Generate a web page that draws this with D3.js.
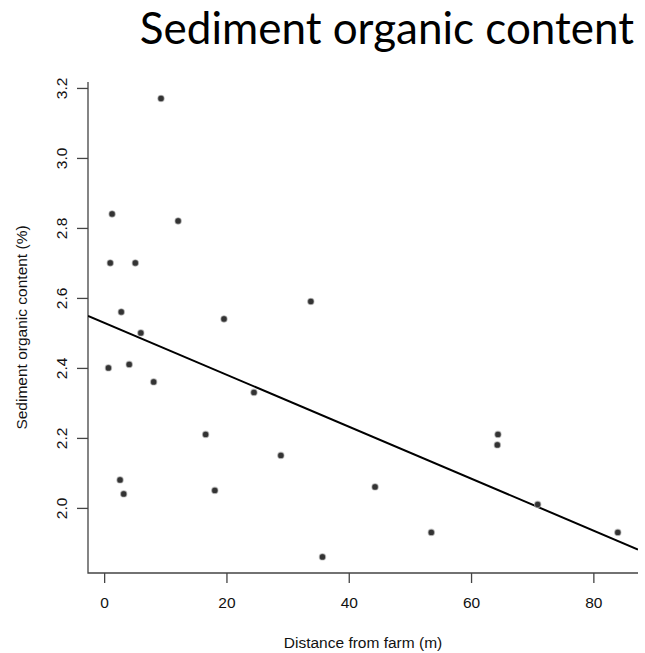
<!DOCTYPE html>
<html>
<head>
<meta charset="utf-8">
<script src="https://cdn.jsdelivr.net/npm/d3@7/dist/d3.min.js"></script>
<style>
  body { margin: 0; background: #fff; }
  svg { display: block; }
  .tick text { font-family: "Liberation Sans", Arial, sans-serif; fill: #111; }
</style>
</head>
<body>
<div id="chart"></div>
<script>
// distance from farm (m) and organic content (%)
const distance = [0.7, 1.0, 1.3, 2.6, 2.8, 3.2, 4.1, 5.1, 6.0, 8.1, 9.3, 12.1, 16.6,
                  18.1, 19.6, 24.5, 28.9, 33.8, 35.7, 44.3, 53.5, 64.4, 64.3, 70.9, 84.0];
const organic  = [2.40, 2.70, 2.84, 2.08, 2.56, 2.04, 2.41, 2.70, 2.50, 2.36, 3.17, 2.82, 2.21,
                  2.05, 2.54, 2.33, 2.15, 2.59, 1.86, 2.06, 1.93, 2.21, 2.18, 2.01, 1.93];

const xTicks = [0, 20, 40, 60, 80];
const yTicks = [2.0, 2.2, 2.4, 2.6, 2.8, 3.0, 3.2];

// fitted line (intercept, slope) as drawn in the picture
const fitIntercept = 2.529;
const fitSlope = -0.00742;

const xDomain = [-2.64, 87.3];
const yDomain = [1.814, 3.217];

const width = 645, height = 653;
const plot = { left: 88, right: 638, top: 82, bottom: 573 };

const svg = d3.select("#chart").append("svg")
    .attr("width", width)
    .attr("height", height);

const x = d3.scaleLinear().domain(xDomain).range([plot.left, plot.right]);
const y = d3.scaleLinear().domain(yDomain).range([plot.bottom, plot.top]);

// titre
svg.append("text")
    .attr("x", 634)
    .attr("y", 44)
    .attr("text-anchor", "end")
    .style("font-family", "Lato, 'Open Sans', sans-serif")
    .style("font-size", "44px")
    .style("fill", "#000")
    .text("Sediment organic content");

// axe x
const xAxis = svg.append("g")
    .attr("transform", `translate(0,${plot.bottom})`)
    .call(d3.axisBottom(x).tickValues(xTicks).tickSize(10).tickFormat(d3.format("d")));
xAxis.select(".domain").remove();
xAxis.selectAll(".tick line").attr("stroke", "#444").attr("stroke-width", 1.3);
xAxis.selectAll(".tick text")
    .attr("y", 30)
    .attr("dy", "0.35em")
    .style("font-size", "15.5px");

// axe y
const yAxis = svg.append("g")
    .attr("transform", `translate(${plot.left},0)`)
    .call(d3.axisLeft(y).tickValues(yTicks).tickSize(11).tickFormat(d3.format(".1f")));
yAxis.select(".domain").remove();
yAxis.selectAll(".tick line").attr("stroke", "#444").attr("stroke-width", 1.3);
yAxis.selectAll(".tick text")
    .attr("x", null)
    .attr("dy", null)
    .attr("text-anchor", "middle")
    .attr("transform", "translate(-26,0) rotate(-90)")
    .attr("dy", "0.35em")
    .style("font-size", "15.5px");

// cadre en L
svg.append("path")
    .attr("d", `M${plot.left},${plot.top}V${plot.bottom}H${plot.right}`)
    .attr("fill", "none")
    .attr("stroke", "#444")
    .attr("stroke-width", 1.3);

// titres des axes
svg.append("text")
    .attr("x", (plot.left + plot.right) / 2)
    .attr("y", 643)
    .attr("dy", "0.35em")
    .attr("text-anchor", "middle")
    .style("font-family", "'Liberation Sans', Arial, sans-serif")
    .style("font-size", "15.5px")
    .style("fill", "#111")
    .text("Distance from farm (m)");

svg.append("text")
    .attr("transform", `translate(22,${(plot.top + plot.bottom) / 2}) rotate(-90)`)
    .attr("dy", "0.35em")
    .attr("text-anchor", "middle")
    .style("font-family", "'Liberation Sans', Arial, sans-serif")
    .style("font-size", "15.5px")
    .style("fill", "#111")
    .text("Sediment organic content (%)");

// droite de régression, coupée à la zone du graphique
svg.append("clipPath").attr("id", "clip")
    .append("rect")
    .attr("x", plot.left).attr("y", plot.top)
    .attr("width", plot.right - plot.left).attr("height", plot.bottom - plot.top);

svg.append("line")
    .attr("clip-path", "url(#clip)")
    .attr("x1", x(xDomain[0])).attr("y1", y(fitIntercept + fitSlope * xDomain[0]))
    .attr("x2", x(xDomain[1])).attr("y2", y(fitIntercept + fitSlope * xDomain[1]))
    .attr("stroke", "#000")
    .attr("stroke-width", 2);

// points
svg.append("g").selectAll("circle")
    .data(distance.map((d, i) => [d, organic[i]]))
    .join("circle")
    .attr("cx", d => x(d[0]))
    .attr("cy", d => y(d[1]))
    .attr("r", 3.2)
    .attr("fill", "#333")
    .attr("stroke", "#bbb")
    .attr("stroke-opacity", 0.6)
    .attr("stroke-width", 1.2);
</script>
</body>
</html>
